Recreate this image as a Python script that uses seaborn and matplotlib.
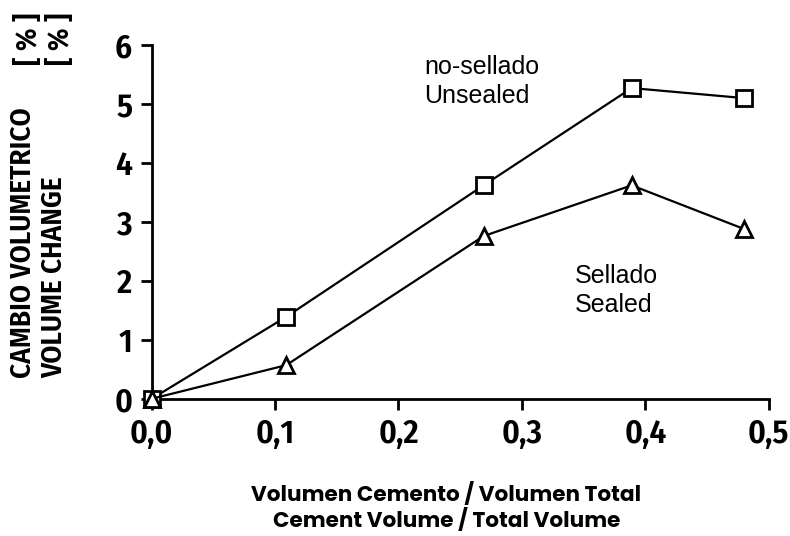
import seaborn as sns
import matplotlib.pyplot as plt
import pandas as pd

# data
x_unsealed = [0.0, 0.109, 0.269, 0.389, 0.480]
y_unsealed = [0.0, 1.39, 3.62, 5.27, 5.10]
x_sealed = [0.0, 0.109, 0.269, 0.389, 0.480]
y_sealed = [0.0, 0.57, 2.76, 3.62, 2.88]
xticks = [0.0, 0.1, 0.2, 0.3, 0.4, 0.5]
xtick_labels = ['0,0', '0,1', '0,2', '0,3', '0,4', '0,5']
yticks = [0, 1, 2, 3, 4, 5, 6]

df_plot = pd.concat([
    pd.DataFrame({'x': x_unsealed, 'y': y_unsealed, 'serie': 'Unsealed'}),
    pd.DataFrame({'x': x_sealed, 'y': y_sealed, 'serie': 'Sealed'}),
])

sns.set_theme(style='ticks')
plt.rcParams['font.family'] = ['Liberation Sans', 'DejaVu Sans']
condensed = ['Fira Sans Condensed', 'DejaVu Sans']

fig = plt.figure(figsize=(7.9, 5.36), dpi=100)
ax = fig.add_axes([0.192, 0.256, 0.781, 0.660])

sns.lineplot(data=df_plot, x='x', y='y', style='serie', units='serie', estimator=None,
             markers={'Unsealed': 's', 'Sealed': '^'}, dashes=False, color='black',
             linewidth=1.6, markersize=11, markerfacecolor='white',
             markeredgecolor='black', markeredgewidth=2, legend=False, ax=ax,
             zorder=3, clip_on=False)

ax.set_xlim(0, 0.5)
ax.set_ylim(0, 6)
ax.set_xticks(xticks)
ax.set_xticklabels(xtick_labels)
ax.set_yticks(yticks)
ax.set_xlabel('')
ax.set_ylabel('')
sns.despine(ax=ax)
for s in ['left', 'bottom']:
    ax.spines[s].set_linewidth(2)
    ax.spines[s].set_color('black')
ax.tick_params('both', length=8, width=2, color='black', pad=6)
for lab in ax.get_xticklabels() + ax.get_yticklabels():
    lab.set_family(condensed)
    lab.set_fontweight(600)
    lab.set_fontsize(24)
    lab.set_color('black')

ax.text(0.221, 5.51, 'no-sellado', fontsize=18, ha='left', va='baseline', color='black')
ax.text(0.221, 5.02, 'Unsealed', fontsize=18, ha='left', va='baseline', color='black')
ax.text(0.343, 1.97, 'Sellado', fontsize=18, ha='left', va='baseline', color='black')
ax.text(0.343, 1.47, 'Sealed', fontsize=18, ha='left', va='baseline', color='black')

# y label, two rotated lines with the unit at the top
ylab_kw = dict(rotation=90, fontsize=21, fontweight=600, family=condensed, color='black')
fig.text(0.029, 0.295, 'CAMBIO VOLUMETRICO', ha='center', va='bottom', **ylab_kw)
fig.text(0.068, 0.295, 'VOLUME CHANGE', ha='center', va='bottom', **ylab_kw)
fig.text(0.037, 0.927, '[ % ]', ha='center', va='center', **ylab_kw)
fig.text(0.077, 0.927, '[ % ]', ha='center', va='center', **ylab_kw)

# x label
xlab_kw = dict(fontsize=15.5, fontweight='bold', family=['Poppins', 'Lato', 'DejaVu Sans'],
               color='black')
fig.text(0.565, 0.066, 'Volumen Cemento / Volumen Total', ha='center', va='baseline', **xlab_kw)
fig.text(0.565, 0.017, 'Cement Volume / Total Volume', ha='center', va='baseline', **xlab_kw)

plt.savefig('out.png', dpi=100)
plt.close()
